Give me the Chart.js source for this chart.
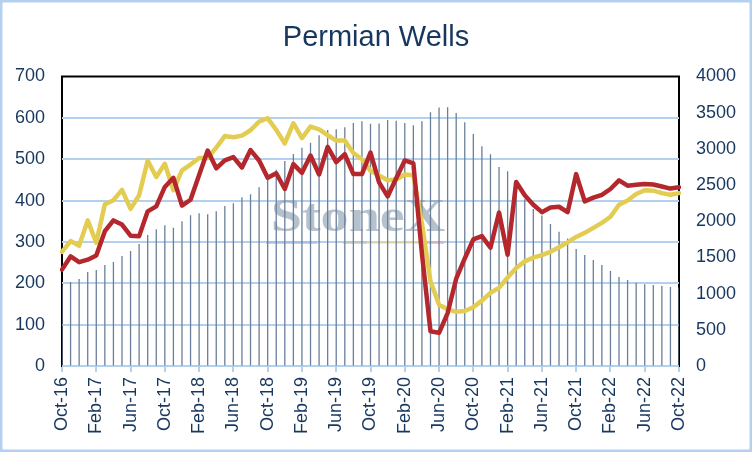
<!DOCTYPE html>
<html><head><meta charset="utf-8">
<script src="https://cdn.jsdelivr.net/npm/chart.js@4/dist/chart.umd.min.js"></script>
<style>html,body{margin:0;padding:0;background:#fff;}#wrap{width:752px;height:452px;position:relative;}</style>
</head><body><div id="wrap"><canvas id="c"></canvas></div>
<script>
const categories = ['Oct-16','Nov-16','Dec-16','Jan-17','Feb-17','Mar-17','Apr-17','May-17','Jun-17','Jul-17','Aug-17','Sep-17',
'Oct-17','Nov-17','Dec-17','Jan-18','Feb-18','Mar-18','Apr-18','May-18','Jun-18','Jul-18','Aug-18','Sep-18',
'Oct-18','Nov-18','Dec-18','Jan-19','Feb-19','Mar-19','Apr-19','May-19','Jun-19','Jul-19','Aug-19','Sep-19',
'Oct-19','Nov-19','Dec-19','Jan-20','Feb-20','Mar-20','Apr-20','May-20','Jun-20','Jul-20','Aug-20','Sep-20',
'Oct-20','Nov-20','Dec-20','Jan-21','Feb-21','Mar-21','Apr-21','May-21','Jun-21','Jul-21','Aug-21','Sep-21',
'Oct-21','Nov-21','Dec-21','Jan-22','Feb-22','Mar-22','Apr-22','May-22','Jun-22','Jul-22','Aug-22','Sep-22','Oct-22'];
const tickLabels = ['Oct-16','Feb-17','Jun-17','Oct-17','Feb-18','Jun-18','Oct-18','Feb-19','Jun-19','Oct-19','Feb-20','Jun-20','Oct-20','Feb-21','Jun-21','Oct-21','Feb-22','Jun-22','Oct-22'];
// grey bars, right axis
const barValues = [1120,1160,1203,1298,1325,1395,1436,1519,1588,1684,1809,1889,1946,1910,2001,2082,2112,2098,2138,2209,2250,2333,2372,2471,
2590,2712,2832,2929,3014,3085,3187,3260,3270,3300,3359,3380,3348,3352,3398,3387,3359,3327,3382,3506,3573,3575,3495,3368,
3205,3037,2925,2750,2692,2500,2305,2170,2078,1963,1855,1762,1615,1532,1463,1395,1312,1228,1187,1150,1130,1118,1104,1090,1085];
// red line, left axis
const redValues = [233,265,251,257,267,326,352,342,315,314,374,386,433,455,388,402,462,521,478,497,505,480,522,497,
455,466,428,488,467,509,463,530,493,512,464,464,516,444,410,454,497,490,272,84,80,128,211,260,
306,314,286,371,269,445,413,390,372,383,385,372,464,398,407,414,428,449,436,438,440,439,434,429,432];
// yellow line, left axis
const yellowValues = [276,302,291,352,298,391,401,426,380,413,497,457,489,425,473,487,503,503,528,556,553,557,570,591,
599,571,538,587,551,579,572,558,545,545,515,500,472,461,449,451,463,461,345,205,148,137,131,133,
142,158,177,189,214,237,253,262,268,276,287,299,312,322,334,346,361,390,400,416,425,424,418,414,418];
const leftAxis = { min: 0, max: 700, step: 100 };
const rightAxis = { min: 0, max: 4000, step: 500 };

const TXT = '#17375e';
const GRID = '#b3d1ee';
const FONT = '"Liberation Sans", Arial, sans-serif';

const deco = {
  id: 'deco',
  beforeDatasetsDraw(chart) {
    const ctx = chart.ctx;
    const a = chart.chartArea;
    const ys = chart.scales.y;
    ctx.save();
    ctx.strokeStyle = GRID;
    ctx.lineWidth = 2;
    ys.ticks.forEach(t => {
      if (t.value === leftAxis.max) return;
      const py = Math.round(ys.getPixelForValue(t.value));
      ctx.beginPath();
      ctx.moveTo(a.left, py);
      ctx.lineTo(a.right, py);
      ctx.stroke();
    });
    ctx.fillStyle = 'rgba(150,166,184,0.7)';
    ctx.font = 'bold 46px "Liberation Serif", serif';
    ctx.textAlign = 'center';
    ctx.textBaseline = 'alphabetic';
    ctx.translate(358, 231);
    ctx.scale(1.22, 1);
    ctx.fillText('StoneX', 0, 0);
    ctx.restore();
    ctx.save();
    const segs = [[266,317,'rgba(150,185,225,0.6)'],[343,367,'rgba(185,195,175,0.6)'],[367,423,'rgba(245,215,130,0.6)'],[423,444,'rgba(240,160,160,0.6)']];
    segs.forEach(s => { ctx.fillStyle = s[2]; ctx.fillRect(s[0], 241, s[1]-s[0], 3); });
    ctx.restore();
  },
  afterDraw(chart) {
    const ctx = chart.ctx;
    const a = chart.chartArea;
    ctx.save();
    ctx.strokeStyle = '#000';
    ctx.lineWidth = 2;
    ctx.beginPath();
    ctx.moveTo(a.left - 1, a.top);
    ctx.lineTo(a.right + 1, a.top);
    ctx.stroke();
    ctx.fillStyle = TXT;
    ctx.font = '29px ' + FONT;
    ctx.textAlign = 'center';
    ctx.textBaseline = 'alphabetic';
    ctx.fillText('Permian Wells', 376, 46);
    ctx.strokeStyle = GRID;
    ctx.lineWidth = 2.5;
    ctx.strokeRect(1.25, 1.25, 749.5, 449.5);
    ctx.restore();
  }
};

new Chart(document.getElementById('c'), {
  data: {
    labels: categories,
    datasets: [
      { type: 'line', label: 'Red', data: redValues, yAxisID: 'y', borderColor: '#b3272d', borderWidth: 4.5,
        pointRadius: 0, tension: 0, borderJoinStyle: 'round', borderCapStyle: 'round', order: 0 },
      { type: 'line', label: 'Yellow', data: yellowValues, yAxisID: 'y', borderColor: '#e2cd52', borderWidth: 4.5,
        pointRadius: 0, tension: 0, borderJoinStyle: 'round', borderCapStyle: 'round', order: 1 },
      { type: 'bar', label: 'Bars', data: barValues, yAxisID: 'y1', backgroundColor: '#6a7f99', barThickness: 1.3,
        inflateAmount: 0, borderWidth: 0, order: 2 }
    ]
  },
  options: {
    responsive: true, maintainAspectRatio: false, animation: false,
    layout: { padding: { top: 76.5, left: 0, right: 0, bottom: 0 } },
    plugins: { legend: { display: false }, tooltip: { enabled: false }, title: { display: false } },
    scales: {
      x: {
        type: 'category', offset: false,
        afterFit: s => { s.height = 86; },
        grid: { offset: false, drawOnChartArea: false, drawTicks: true, tickLength: 6,
          color: c => (c.index % 4 === 0 ? GRID : 'rgba(0,0,0,0)'), lineWidth: 2 },
        border: { display: true, color: GRID, width: 2 },
        ticks: { autoSkip: false, minRotation: 90, maxRotation: 90, padding: 5, color: TXT,
          font: { family: FONT, size: 18 },
          callback: function(v, i) { const l = this.getLabelForValue(v); return tickLabels.includes(l) ? l : ''; } }
      },
      y: {
        position: 'left', min: leftAxis.min, max: leftAxis.max,
        afterFit: s => { s.width = 62; },
        grid: { drawOnChartArea: false, drawTicks: false },
        border: { display: true, color: '#000', width: 2 },
        ticks: { stepSize: leftAxis.step, padding: 17, color: TXT, font: { family: FONT, size: 18 },
          callback: v => String(v) }
      },
      y1: {
        position: 'right', min: rightAxis.min, max: rightAxis.max,
        afterFit: s => { s.width = 73; },
        grid: { drawOnChartArea: false, drawTicks: false },
        border: { display: true, color: '#000', width: 2 },
        ticks: { stepSize: rightAxis.step, padding: 17, color: TXT, font: { family: FONT, size: 18 },
          callback: v => String(v) }
      }
    }
  },
  plugins: [deco]
});
</script></body></html>
